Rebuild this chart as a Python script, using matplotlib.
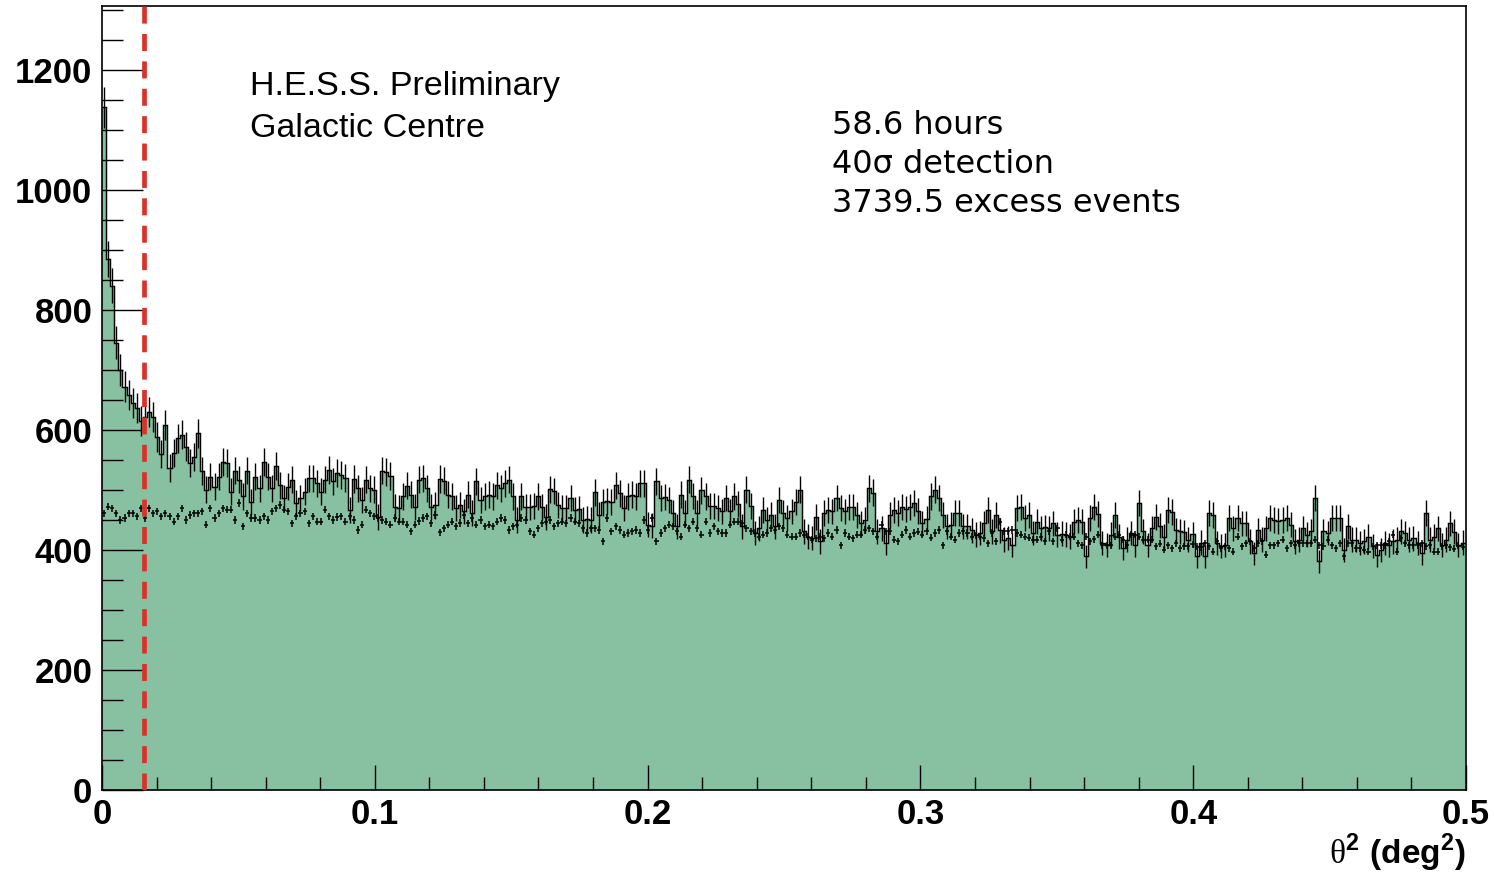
import numpy as np
import matplotlib
matplotlib.use("Agg")
import matplotlib.pyplot as plt

# ---------------- data ----------------
bin_width = 0.0015          # deg^2 per bin
theta2_cut = 0.0154         # position of the red dashed cut line
off_norm = 1.0 / 12.0       # ON/OFF exposure ratio used for the OFF error bars

on_counts = [
    1137, 885, 840, 745, 700, 672, 658, 645, 636, 615,
    622, 630, 622, 588, 560, 608, 536, 561, 586, 592,
    572, 544, 555, 594, 531, 500, 522, 505, 522, 547,
    544, 497, 532, 517, 489, 532, 480, 522, 503, 547,
    522, 503, 539, 508, 486, 505, 517, 478, 486, 497,
    519, 519, 511, 497, 517, 533, 514, 528, 525, 520,
    467, 518, 503, 483, 517, 503, 500, 455, 532, 530,
    523, 472, 470, 489, 507, 492, 472, 517, 519, 503,
    472, 474, 518, 515, 492, 489, 469, 475, 464, 492,
    461, 514, 483, 489, 492, 489, 508, 503, 511, 517,
    489, 450, 489, 472, 471, 473, 489, 472, 455, 501,
    498, 475, 469, 469, 486, 467, 468, 450, 452, 450,
    496, 458, 479, 481, 480, 508, 494, 469, 489, 492,
    489, 511, 511, 442, 440, 514, 486, 488, 483, 461,
    439, 492, 461, 517, 490, 461, 499, 489, 473, 473,
    470, 464, 486, 464, 489, 476, 439, 500, 473, 428,
    436, 467, 450, 458, 439, 483, 461, 453, 464, 480,
    500, 431, 422, 420, 455, 414, 461, 467, 464, 486,
    470, 464, 472, 472, 458, 444, 450, 503, 495, 431,
    436, 411, 458, 467, 461, 471, 468, 471, 478, 465,
    444, 452, 489, 500, 486, 458, 439, 442, 461, 461,
    439, 439, 433, 425, 428, 444, 467, 431, 458, 433,
    417, 420, 408, 469, 472, 453, 458, 428, 447, 436,
    438, 436, 444, 425, 427, 425, 422, 447, 450, 447,
    389, 453, 472, 460, 411, 408, 425, 458, 422, 403,
    417, 428, 408, 478, 431, 408, 436, 455, 440, 422,
    467, 463, 433, 431, 429, 417, 426, 389, 412, 389,
    461, 458, 411, 406, 408, 453, 436, 453, 444, 444,
    414, 394, 433, 417, 436, 453, 450, 448, 450, 453,
    442, 414, 417, 436, 425, 431, 486, 381, 431, 428,
    453, 453, 453, 400, 439, 417, 417, 411, 414, 422,
    406, 392, 400, 411, 408, 414, 417, 431, 428, 417,
    419, 411, 394, 461, 417, 422, 436, 408, 417, 444,
    430, 408, 412,
]

off_counts = [
    461, 472, 469, 461, 450, 453, 461, 461, 456, 469,
    453, 469, 461, 464, 456, 461, 456, 447, 456, 469,
    450, 458, 461, 461, 464, 442, 469, 453, 461, 469,
    467, 467, 450, 478, 439, 461, 453, 453, 450, 456,
    450, 464, 469, 475, 467, 464, 444, 456, 461, 464,
    444, 456, 447, 447, 467, 456, 450, 455, 456, 447,
    456, 450, 433, 442, 467, 461, 456, 453, 450, 447,
    442, 453, 447, 447, 442, 431, 442, 448, 453, 456,
    444, 458, 429, 436, 442, 447, 439, 445, 458, 444,
    453, 442, 450, 439, 442, 439, 447, 453, 450, 433,
    439, 442, 453, 450, 431, 425, 436, 444, 447, 450,
    439, 444, 447, 444, 453, 447, 444, 436, 428, 436,
    436, 433, 414, 453, 431, 439, 433, 425, 428, 431,
    433, 428, 450, 433, 453, 414, 428, 436, 442, 439,
    431, 422, 442, 436, 447, 436, 425, 447, 428, 439,
    431, 428, 428, 442, 447, 447, 444, 436, 431, 428,
    422, 425, 428, 436, 433, 439, 436, 425, 422, 422,
    428, 425, 422, 417, 419, 422, 419, 428, 422, 433,
    408, 428, 422, 419, 425, 425, 433, 436, 431, 422,
    442, 431, 431, 417, 414, 425, 433, 422, 428, 430,
    425, 431, 420, 428, 433, 408, 431, 422, 417, 428,
    431, 428, 422, 424, 422, 419, 411, 428, 414, 447,
    431, 431, 433, 428, 425, 422, 420, 417, 417, 422,
    414, 431, 414, 436, 417, 425, 422, 422, 411, 408,
    422, 414, 418, 425, 408, 408, 408, 422, 425, 417,
    408, 425, 425, 422, 417, 417, 417, 406, 410, 400,
    408, 403, 411, 403, 406, 406, 409, 405, 404, 411,
    406, 397, 414, 403, 406, 403, 397, 422, 406, 411,
    414, 403, 411, 414, 392, 408, 408, 411, 417, 403,
    411, 408, 411, 411, 411, 411, 417, 408, 406, 417,
    408, 403, 411, 389, 411, 411, 403, 403, 400, 397,
    406, 408, 408, 408, 414, 425, 397, 419, 411, 408,
    408, 408, 411, 406, 408, 397, 397, 406, 408, 404,
    402, 407, 405,
]

x_tick_values = [0, 0.1, 0.2, 0.3, 0.4, 0.5]
x_tick_labels = ["0", "0.1", "0.2", "0.3", "0.4", "0.5"]
y_tick_values = [0, 200, 400, 600, 800, 1000, 1200]
y_tick_labels = ["0", "200", "400", "600", "800", "1000", "1200"]

left_texts = ["H.E.S.S. Preliminary", "Galactic Centre"]
right_texts = ["58.6 hours", "40\u03c3 detection", "3739.5 excess events"]

# ---------------- plotting ----------------
plt.rcParams["mathtext.fontset"] = "custom"
plt.rcParams["mathtext.rm"] = "Liberation Serif"
plt.rcParams["mathtext.bf"] = "Liberation Sans:bold"

W, H = 1494, 875
fig = plt.figure(figsize=(W / 100, H / 100), dpi=100)
fig.patch.set_facecolor("white")

ax_l, ax_r, ax_b, ax_t = 102, 1466, 790, 6
ax = fig.add_axes([ax_l / W, 1 - ax_b / H, (ax_r - ax_l) / W, (ax_b - ax_t) / H])

on = np.array(on_counts, dtype=float)
off = np.array(off_counts, dtype=float)
edges = np.arange(len(on) + 1) * bin_width
centers = edges[:-1] + bin_width / 2

green = "#87c1a1"
ax.stairs(on, edges, fill=True, color=green, lw=0, zorder=1)
ax.stairs(on, edges, baseline=None, color="black", lw=1.05, zorder=3)
ax.vlines(centers, on - np.sqrt(on), on + np.sqrt(on), color="black", lw=1.0, zorder=3)
ax.errorbar(centers, off, xerr=bin_width / 2, yerr=np.sqrt(off * off_norm),
            fmt="none", ecolor="black", elinewidth=1.1, capsize=0, zorder=4)

ax.axvline(theta2_cut, color="#d9322a", lw=3.4, ls=(0, (3.6, 2.2)), zorder=5)

ax.set_xlim(0, 0.5)
ax.set_ylim(0, 1306)

ax.set_xticks(x_tick_values)
ax.set_xticklabels(x_tick_labels)
ax.set_xticks(np.arange(0, 0.5001, 0.02), minor=True)
ax.set_yticks(y_tick_values)
ax.set_yticklabels(y_tick_labels)
ax.set_yticks(np.arange(0, 1301, 50), minor=True)

ax.tick_params(axis="y", which="major", direction="in", length=29.5, width=1.0, pad=7)
ax.tick_params(axis="y", which="minor", direction="in", length=15, width=1.0)
ax.tick_params(axis="x", which="major", direction="in", length=18, width=1.0, pad=6)
ax.tick_params(axis="x", which="minor", direction="in", length=9.5, width=1.0)
for lab in ax.get_xticklabels() + ax.get_yticklabels():
    lab.set_fontfamily("Liberation Sans")
    lab.set_fontweight("bold")
    lab.set_fontsize(25)

for sp in ax.spines.values():
    sp.set_linewidth(1.2)
    sp.set_color("black")

# axis title
fig.text(1466 / W, 1 - 853 / H, r"$\mathrm{\theta}^{\mathbf{2}}$ $\mathbf{(deg^{2})}$",
         ha="right", va="center", fontsize=24)

# annotations
fig.text(250 / W, 1 - 95 / H, left_texts[0], family="Liberation Sans",
         fontsize=24.5, ha="left", va="baseline")
fig.text(250 / W, 1 - 137 / H, left_texts[1], family="Liberation Sans",
         fontsize=24.5, ha="left", va="baseline")
for i, t in enumerate(right_texts):
    fig.text(832 / W, 1 - (134 + 39 * i) / H, t, family="DejaVu Sans",
             fontsize=23, ha="left", va="baseline")

fig.savefig("out.png", dpi=100, facecolor="white")
